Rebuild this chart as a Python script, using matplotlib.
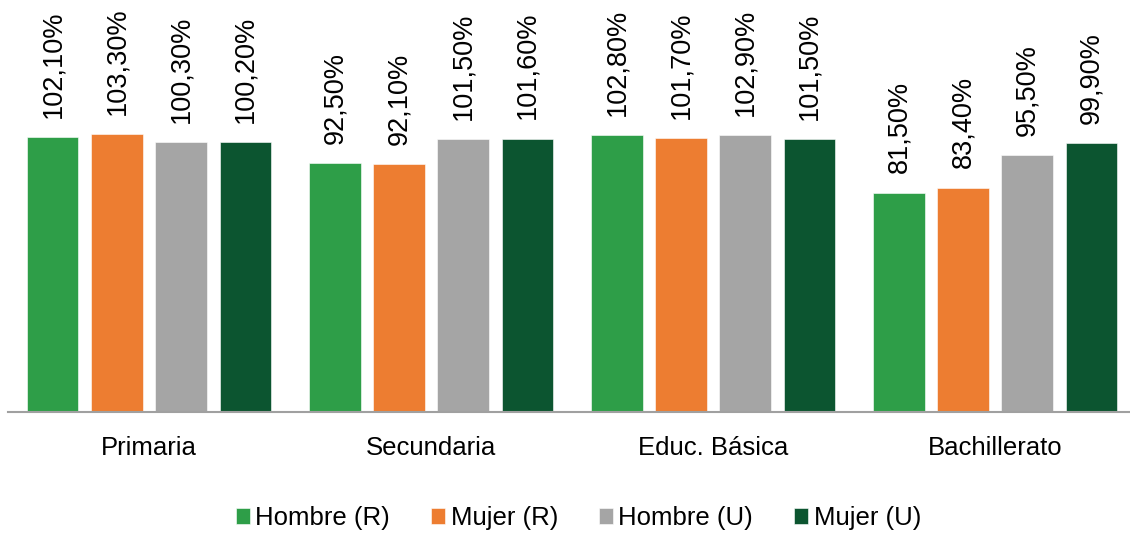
import matplotlib

matplotlib.use("Agg")
import matplotlib.pyplot as plt
import numpy as np

plt.rcParams["font.family"] = ["Liberation Sans", "DejaVu Sans"]

CATEGORIES = ["Primaria", "Secundaria", "Educ. Básica", "Bachillerato"]
SERIES = ["Hombre (R)", "Mujer (R)", "Hombre (U)", "Mujer (U)"]
HOMBRE_R = [102.1, 92.5, 102.8, 81.5]
MUJER_R = [103.3, 92.1, 101.7, 83.4]
HOMBRE_U = [100.3, 101.5, 102.9, 95.5]
MUJER_U = [100.2, 101.6, 101.5, 99.9]
COLORS = ["#2E9E48", "#ED7D31", "#A5A5A5", "#0C5530"]

values = [HOMBRE_R, MUJER_R, HOMBRE_U, MUJER_U]
x = np.arange(len(CATEGORIES))
pitch = 0.227
width = 0.181

fig = plt.figure(figsize=(11.3, 5.33), dpi=100)
ax = fig.add_axes([8 / 1130, 1 - 412 / 533, 4 * 282 / 1130, 412 / 533])

for i, (name, vals, col) in enumerate(zip(SERIES, values, COLORS)):
    pos = x + (i - 1.5) * pitch
    bars = ax.bar(pos, vals, width=width, color=col, label=name,
                  edgecolor="white", linewidth=0.4)
    for b, v in zip(bars, vals):
        txt = f"{v:.2f}%".replace(".", ",")
        ax.annotate(txt, (b.get_x() + b.get_width() / 2, v),
                    xytext=(0, 14), textcoords="offset points",
                    rotation=90, ha="center", va="bottom", fontsize=19.5)

ax.set_xlim(-0.5, 3.5)
ax.set_ylim(0, 412 / 2.69)
ax.set_xticks(x)
ax.set_xticklabels(CATEGORIES, fontsize=18.5)
ax.tick_params(axis="x", length=0, pad=17)
ax.set_yticks([])
for s in ("top", "right", "left"):
    ax.spines[s].set_visible(False)
ax.spines["bottom"].set_color("#A0A0A0")
ax.spines["bottom"].set_linewidth(1.5)

fig.legend(loc="center", bbox_to_anchor=(0.512, 0.028), ncol=4,
           frameon=False, fontsize=18.5, handlelength=0.55, handleheight=0.55,
           handletextpad=0.2, columnspacing=1.6)

fig.savefig("out.png", dpi=100)
